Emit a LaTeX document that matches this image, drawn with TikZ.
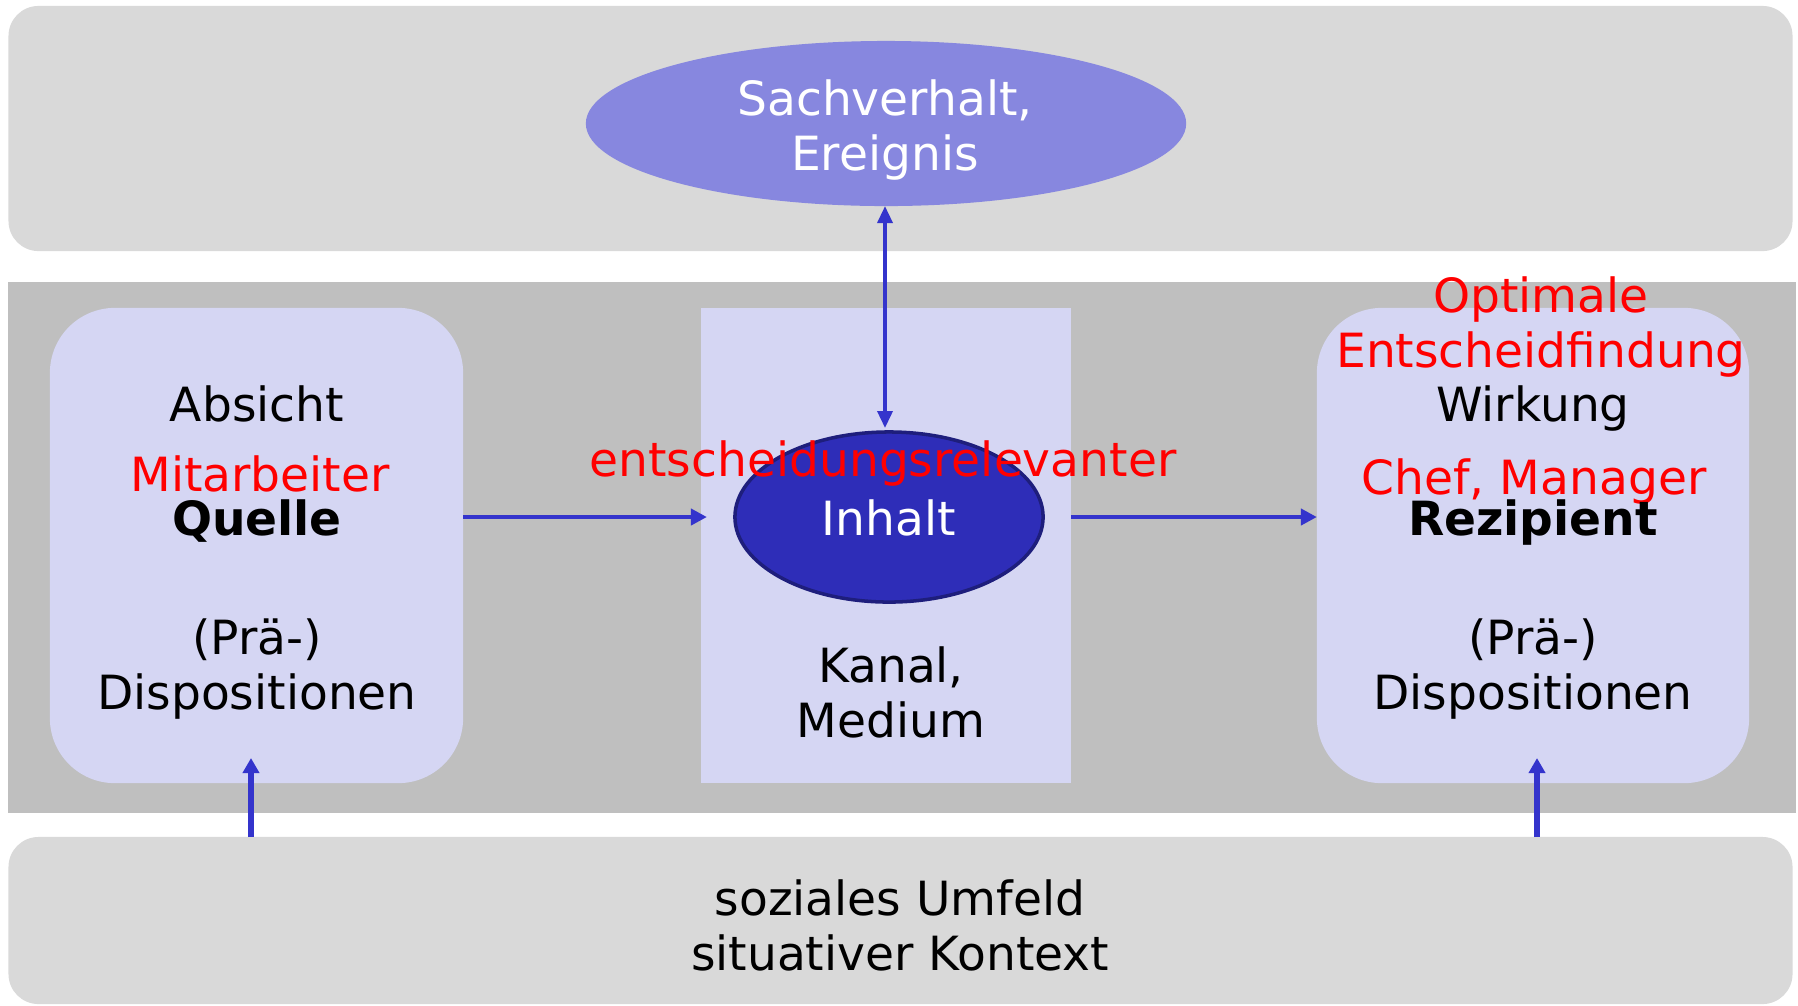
\documentclass[tikz,border=0pt]{standalone}
\usepackage{fontspec}
\setmainfont{DejaVu Sans}
\usepackage{xcolor}
\usetikzlibrary{shapes, arrows.meta, positioning}
\definecolor{panelgray}{HTML}{D9D9D9}
\definecolor{bandgray}{HTML}{BFBFBF}
\definecolor{lavender}{HTML}{D5D6F3}
\definecolor{eventblue}{HTML}{8787DF}
\definecolor{contentblue}{HTML}{2E2DB8}
\definecolor{contentedge}{HTML}{1E1E7C}
\definecolor{arrowblue}{HTML}{3434CC}

\begin{document}
\begin{tikzpicture}[
    x=0.01cm, y=-0.01cm,
    every node/.style={inner sep=0pt, outer sep=0pt},
    panel/.style={fill=panelgray, rounded corners=0.3cm, minimum width=17.83cm},
    partner/.style={fill=lavender, rounded corners=0.65cm, minimum height=4.75cm},
    txt/.style={anchor=base, align=center, font=\fontsize{13.4pt}{15.6pt}\selectfont},
    note/.style={txt, text=red},
    flow/.style={-{Triangle[length=0.16cm, width=0.16cm]}, line width=1.4pt, arrowblue},
    upflow/.style={-{Triangle[length=0.15cm, width=0.16cm]}, line width=1.5pt, arrowblue},
    link/.style={{Triangle[length=0.17cm, width=0.15cm]}-{Triangle[length=0.17cm, width=0.15cm]}, line width=1pt, arrowblue},
]
\useasboundingbox (0,0) rectangle (1798,1005);
% Background panels
\node[panel, minimum height=2.45cm] (toppanel) at (900.5,128.5) {};
\node[fill=bandgray, minimum width=17.86cm, minimum height=5.31cm] (band) at (902,547.5) {};
\node[panel, minimum height=1.67cm] (envpanel) at (900.5,920.5) {};
% Source, channel, recipient
\node[partner, minimum width=4.13cm] (srcbox) at (256.5,545.5) {};
\node[fill=lavender, minimum width=3.70cm, minimum height=4.75cm] (chanbox) at (886,545.5) {};
\node[partner, minimum width=4.32cm] (recbox) at (1533,545.5) {};
% Ellipses
\node[ellipse, fill=eventblue, minimum width=6.0cm, minimum height=1.65cm] (event) at (886,123.5) {};
\node[ellipse, fill=contentblue, draw=contentedge, line width=1pt, minimum width=3.08cm, minimum height=1.7cm] (content) at (889,517) {};
% Texts (two-line nodes sit on their last line)
\node[txt, text=white] (eventtxt) at (885,170) {Sachverhalt,\\Ereignis};
\node[txt] (absicht) at (257,421) {Absicht};
\node[note] (mitarb) at (260,491) {Mitarbeiter};
\node[txt, font=\fontsize{13.4pt}{15.6pt}\selectfont\bfseries] (quelle) at (257,535) {Quelle};
\node[txt] (dispsrc) at (257,709) {(Prä-)\\Dispositionen};
\node[note] (optimal) at (1541,367) {Optimale\\Entscheidfindung};
\node[txt] (wirkung) at (1533,421) {Wirkung};
\node[note] (chef) at (1534,494) {Chef, Manager};
\node[txt, font=\fontsize{13.4pt}{15.6pt}\selectfont\bfseries] (rezip) at (1533,535) {Rezipient};
\node[txt] (disprec) at (1533,709) {(Prä-)\\Dispositionen};
\node[txt, text=white] (inhalt) at (889,535) {Inhalt};
\node[note] (relevant) at (883,476) {entscheidungsrelevanter};
\node[txt] (kanal) at (891,737) {Kanal,\\Medium};
\node[txt] (umfeld) at (900,970) {soziales Umfeld\\situativer Kontext};
% Connectors
\draw[flow] (srcbox.east |- content) -- ([xshift=0.06cm]chanbox.west |- content);
\draw[flow] (chanbox.east |- content) -- (recbox.west |- content);
\draw[link] (event.south -| 885,0) -- (885,428);
\coordinate (srcfoot) at (251,837);
\coordinate (srchead) at (251,758);
\coordinate (recfoot) at (1537,837);
\coordinate (rechead) at (1537,758);
\draw[upflow] (srcfoot) -- (srchead);
\draw[upflow] (recfoot) -- (rechead);
\end{tikzpicture}
\end{document}
